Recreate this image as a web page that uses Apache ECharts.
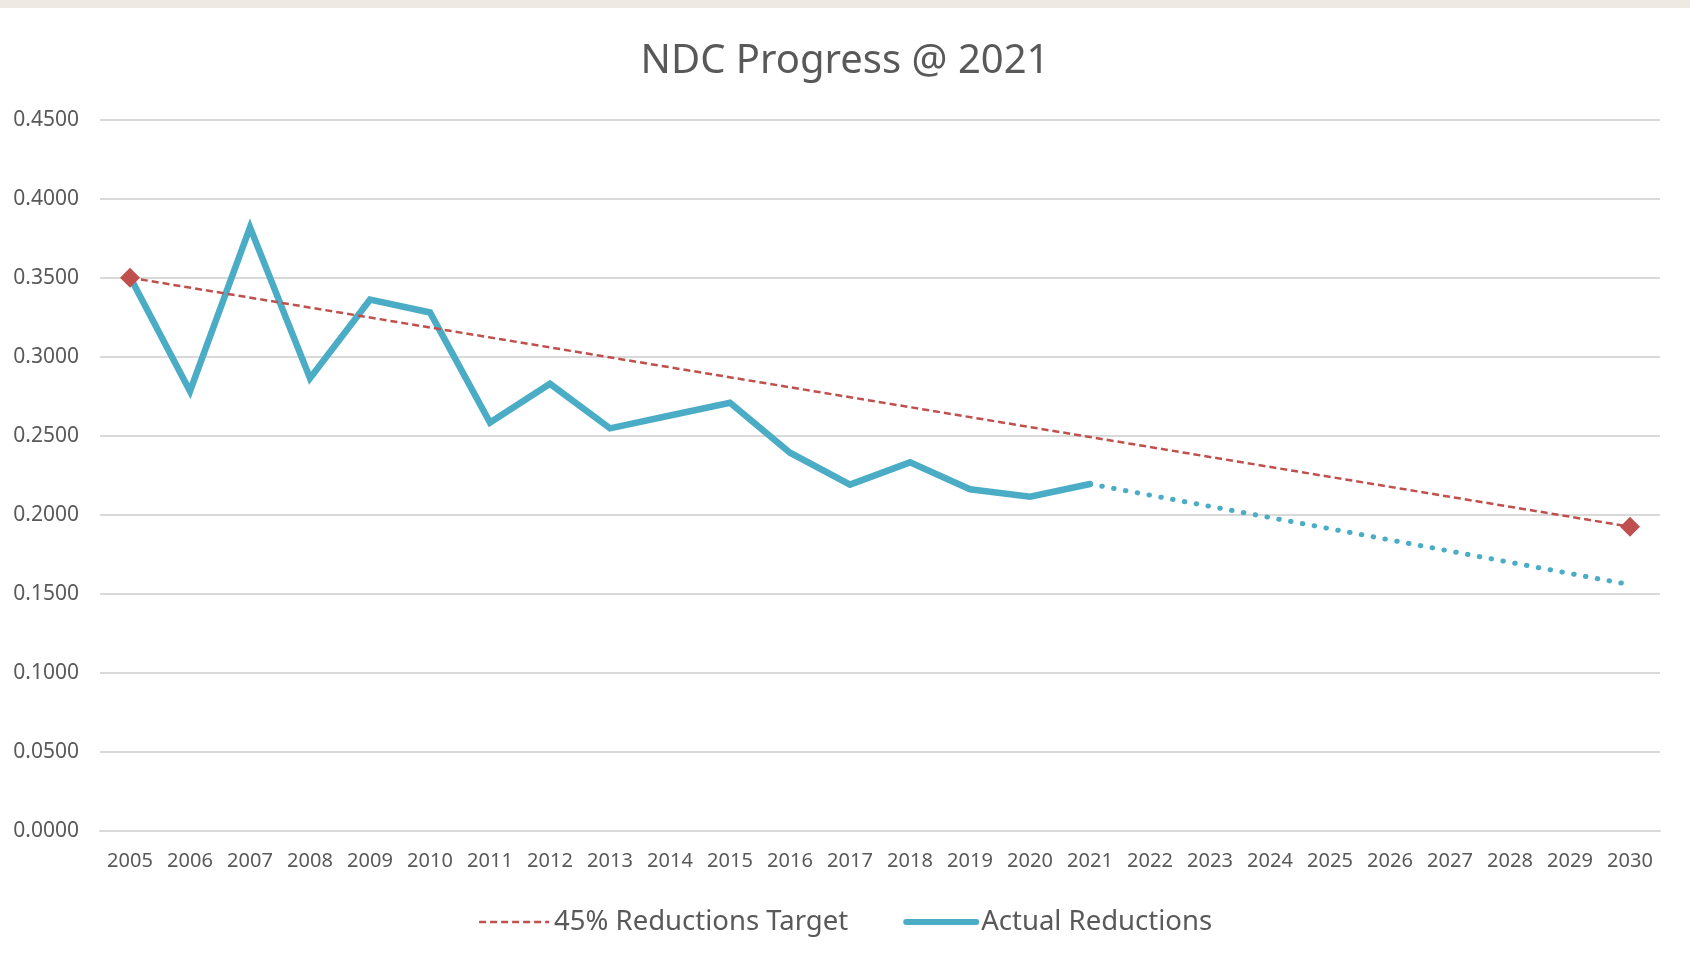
<!DOCTYPE html>
<html>
<head>
<meta charset="utf-8">
<script src="https://cdn.jsdelivr.net/npm/echarts@6/dist/echarts.min.js"></script>
<style>
html,body{margin:0;padding:0;background:#fff;}
#topband{position:absolute;left:0;top:0;width:1690px;height:8px;background:#eeeae3;}
#chart{width:1690px;height:963px;}
</style>
</head>
<body>
<div id="chart"></div>
<div id="topband"></div>
<script>
const years = ['2005','2006','2007','2008','2009','2010','2011','2012','2013','2014','2015','2016','2017','2018','2019','2020','2021','2022','2023','2024','2025','2026','2027','2028','2029','2030'];
const actual = [0.3505,0.2782,0.3818,0.2864,0.3361,0.3280,0.2584,0.2829,0.2547,0.2628,0.2709,0.2393,0.2191,0.2332,0.2162,0.2115,0.2195,null,null,null,null,null,null,null,null,null];
const projection = [null,null,null,null,null,null,null,null,null,null,null,null,null,null,null,null,0.2195,null,null,null,null,null,null,null,null,0.1558];
const target = [0.3500,null,null,null,null,null,null,null,null,null,null,null,null,null,null,null,null,null,null,null,null,null,null,null,null,0.1925];
const yTicks = {min:0, max:0.45, interval:0.05};

const font = 'Noto Sans';
const txt = '#595959';
const blue = '#4bacc6';
const red = '#c0504d';

const targetData = target.map(v => v === null ? null : {value: v, symbol: 'diamond', symbolSize: 20, itemStyle: {color: red}});

const chart = echarts.init(document.getElementById('chart'));
chart.setOption({
  animation: false,
  backgroundColor: '#fff',
  title: {
    text: 'NDC Progress @ 2021',
    left: 'center',
    top: 37,
    textStyle: {fontFamily: font, fontSize: 40, fontWeight: 'normal', color: txt}
  },
  grid: {left: 100, right: 30, top: 119.6, bottom: 132, containLabel: false},
  legend: {
    data: [
      {name: '45% Reductions Target', itemStyle: {opacity: 0}, lineStyle: {color: red, width: 2.5, type: [7, 4]}},
      {name: 'Actual Reductions', itemStyle: {opacity: 0}, lineStyle: {color: blue, width: 6, cap: 'round'}}
    ],
    left: 'center',
    top: 900,
    itemWidth: 70,
    itemHeight: 14,
    itemGap: 55,
    textStyle: {fontFamily: font, fontSize: 27.5, color: txt, lineHeight: 34}
  },
  xAxis: {
    type: 'category',
    data: years,
    boundaryGap: true,
    axisLine: {show: true, lineStyle: {color: '#d9d9d9', width: 2}},
    axisTick: {show: false},
    axisLabel: {fontFamily: font, fontSize: 20, color: txt, margin: 20, interval: 0}
  },
  yAxis: {
    type: 'value',
    min: yTicks.min,
    max: yTicks.max,
    interval: yTicks.interval,
    axisLine: {show: false},
    axisTick: {show: false},
    splitLine: {lineStyle: {color: '#d9d9d9', width: 2}},
    axisLabel: {fontFamily: font, fontSize: 21, color: txt, margin: 21, formatter: v => v.toFixed(4)}
  },
  series: [
    {
      name: '45% Reductions Target',
      type: 'line',
      data: targetData,
      connectNulls: true,
      symbol: 'none',
      z: 3,
      lineStyle: {color: red, width: 2.5, type: [7, 4]},
      itemStyle: {color: red}
    },
    {
      name: 'Actual Reductions',
      type: 'line',
      data: actual,
      symbol: 'none',
      z: 2,
      lineStyle: {color: blue, width: 6.5, cap: 'round', join: 'miter'},
      itemStyle: {color: blue}
    },
    {
      name: 'Projection',
      type: 'line',
      data: projection,
      connectNulls: true,
      symbol: 'none',
      z: 2,
      lineStyle: {color: blue, width: 5, type: [0.5, 11.5], cap: 'round'},
      itemStyle: {color: blue}
    }
  ]
});
</script>
</body>
</html>
